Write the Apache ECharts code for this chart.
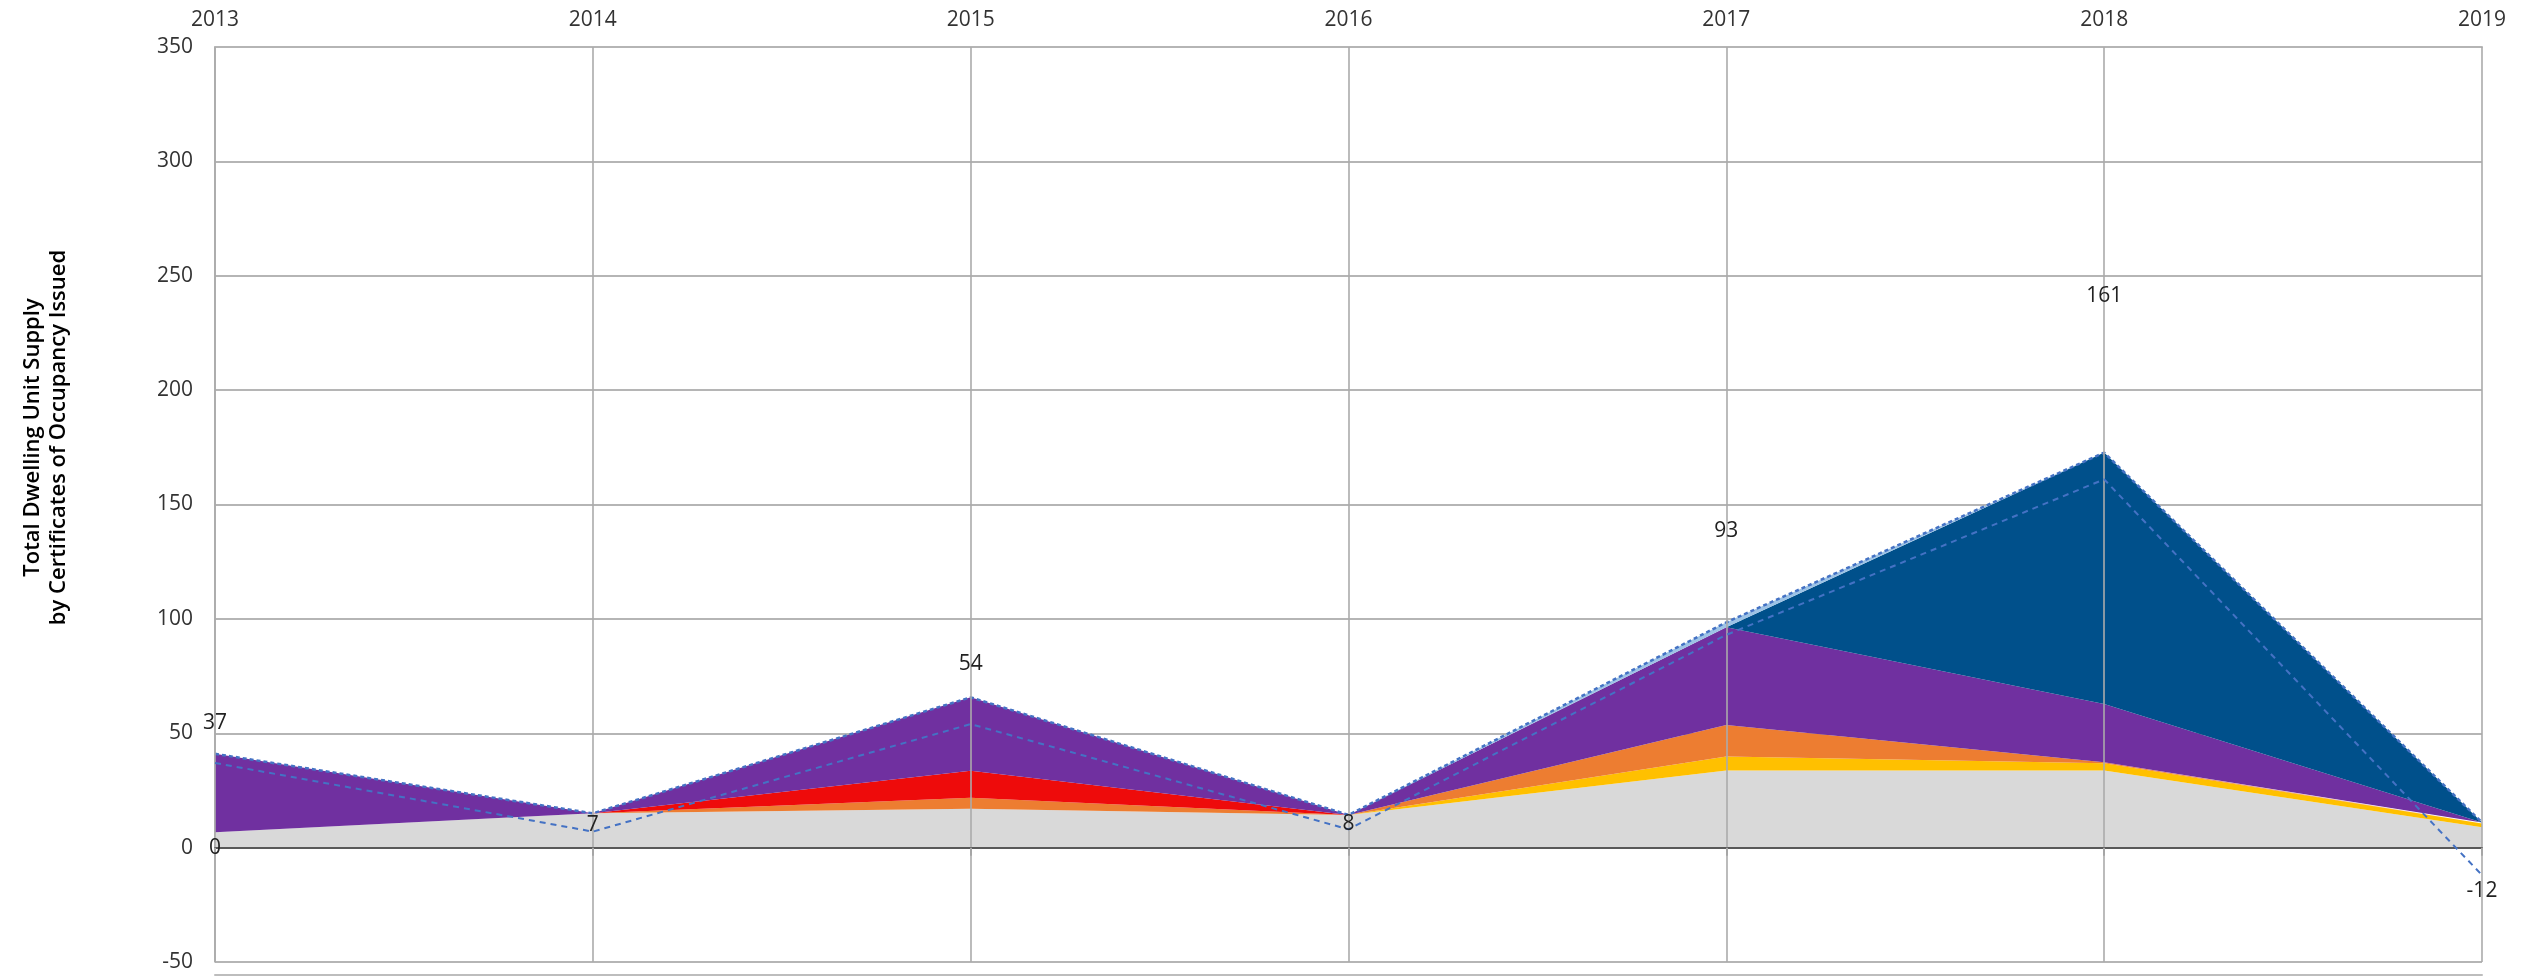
<!DOCTYPE html>
<html>
<head>
<meta charset="utf-8">
<script src="https://cdn.jsdelivr.net/npm/echarts@6/dist/echarts.min.js"></script>
<style>
html,body{margin:0;padding:0;background:#fff;}
#chart{width:2521px;height:976px;}
</style>
</head>
<body>
<div id="chart"></div>
<script>
// ---- data ----
const years = ['2013', '2014', '2015', '2016', '2017', '2018', '2019'];
const greyUnits   = [6.7, 15, 17, 14.3, 33.7, 33.7, 8.9];
const yellowUnits = [0, 0, 0, 0, 6.1, 3.2, 1.7];
const orangeUnits = [0, 0, 4.8, 0, 13.8, 0.4, 0];
const redUnits    = [0, 0, 11.8, 0, 0, 0, 0];
const purpleUnits = [34.3, 0, 32.1, 0, 42.7, 25.5, 0.4];
const navyUnits   = [0, 0, 0, 0, 0, 109.9, 0];
const skyUnits    = [0, 0, 0, 0, 2.2, 0, 0];
const netSupply   = [37, 7, 54, 8, 93, 161, -12];
const baseValue   = [0, null, null, null, null, null, null];
const yTicks = { min: -50, max: 350, interval: 50 };

// ---- styling ----
const FONT = 'Open Sans';
const labelLift = [40, 7, 60, 5, 104, 183, -16];

function areaSeries(name, data, color, extra) {
  return Object.assign({
    name: name,
    type: 'line',
    stack: 'supply',
    data: data,
    symbol: 'none',
    lineStyle: { width: 0 },
    areaStyle: { color: color, opacity: 1 },
    emphasis: { disabled: true },
    z: 2
  }, extra || {});
}

const chart = echarts.init(document.getElementById('chart'), null, { renderer: 'canvas' });

const option = {
  animation: false,
  backgroundColor: '#ffffff',
  grid: [
    { left: 215, right: 39, top: 47, bottom: 14, containLabel: false },
    { left: 215, right: 39, top: 974, height: 1, containLabel: false }
  ],
  xAxis: [
    {
      type: 'category', data: years, boundaryGap: false, position: 'bottom',
      axisLine: { show: true, onZero: true, lineStyle: { color: '#595959', width: 2 } },
      axisTick: { show: true, length: 8, lineStyle: { color: '#a6a6a6', width: 2 } },
      axisLabel: { show: false },
      splitLine: { show: true, lineStyle: { color: '#ababab', width: 1.6 } },
      z: 5
    },
    {
      type: 'category', data: years, boundaryGap: false, position: 'top',
      axisLine: { show: true, onZero: false, lineStyle: { color: '#b5b5b5', width: 2 } },
      axisTick: { show: false },
      axisLabel: { show: true, margin: 16, fontSize: 21, fontFamily: FONT, color: '#333333' },
      splitLine: { show: false }
    },
    {
      type: 'category', data: years, boundaryGap: false, gridIndex: 1, position: 'bottom',
      axisLine: { show: true, onZero: false, lineStyle: { color: '#bdbdbd', width: 2 } },
      axisTick: { show: false }, axisLabel: { show: false }, splitLine: { show: false }
    }
  ],
  yAxis: [
    {
      type: 'value', min: yTicks.min, max: yTicks.max, interval: yTicks.interval,
      axisLine: { show: true, lineStyle: { color: '#ababab', width: 1.6 } },
      axisTick: { show: false },
      axisLabel: { margin: 22, fontSize: 21, fontFamily: FONT, color: '#333333' },
      splitLine: { show: true, lineStyle: { color: '#b5b5b5', width: 1.8 } },
      name: 'Total Dwelling Unit Supply\nby Certificates of Occupancy Issued',
      nameLocation: 'middle',
      nameRotate: 90,
      nameGap: 143,
      nameTextStyle: {
        fontSize: 22, lineHeight: 26, fontFamily: FONT, fontWeight: 600, color: '#000000',
        padding: [0, 0, 0, 134]
      }
    },
    { type: 'value', gridIndex: 1, show: false }
  ],
  series: [
    areaSeries('Grey', greyUnits, '#d9d9d9'),
    areaSeries('Yellow', yellowUnits, '#ffc000'),
    areaSeries('Orange', orangeUnits, '#ed7d31'),
    areaSeries('Red', redUnits, '#ee0b0b'),
    areaSeries('Purple', purpleUnits, '#7030a0'),
    areaSeries('Navy', navyUnits, '#00508b'),
    areaSeries('Sky', skyUnits, '#9dc3e6', {
      lineStyle: { width: 2.5, color: '#4472c4', type: [4, 3] }, z: 3
    }),
    {
      name: 'Net', type: 'line', data: netSupply.map(function (v, i) {
        return { value: v, label: { offset: [0, -labelLift[i]] } };
      }),
      symbol: 'circle', symbolSize: 1, showSymbol: true,
      itemStyle: { color: 'rgba(0,0,0,0)' },
      lineStyle: { color: '#4472c4', width: 2, type: [6, 5] },
      label: { show: true, position: 'inside', fontSize: 21, fontFamily: FONT, color: '#222222' },
      emphasis: { disabled: true },
      z: 6
    },
    {
      name: 'Base', type: 'line', data: baseValue,
      symbol: 'circle', symbolSize: 1, showSymbol: true,
      itemStyle: { color: 'rgba(0,0,0,0)' },
      lineStyle: { width: 0 },
      label: { show: true, position: 'inside', fontSize: 21, fontFamily: FONT, color: '#222222' },
      emphasis: { disabled: true },
      z: 6
    }
  ]
};
chart.setOption(option);
</script>
</body>
</html>
